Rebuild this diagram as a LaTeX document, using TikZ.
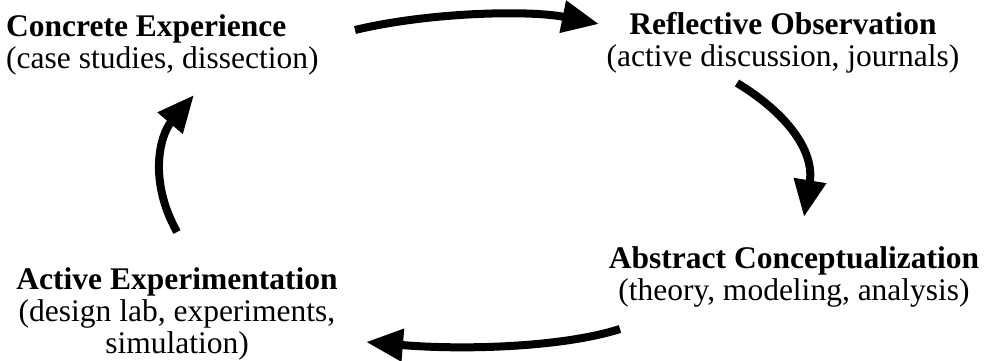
\documentclass[tikz,border=0pt]{standalone}
\usepackage{fontspec}
\setmainfont{Liberation Serif}
\usetikzlibrary{arrows.meta}

\begin{document}
\begin{tikzpicture}[x=1pt,y=-1pt]
	\tikzstyle{phase}=[inner sep=0pt,align=center,font=\fontsize{31.5}{32}\selectfont]
	\tikzstyle{fleche}=[line width=8pt,-{Triangle[length=37pt,width=31pt]}]
	\useasboundingbox (0,0) rectangle (985,361);
	% les quatre phases
	\node[phase,align=left,anchor=north west] (A) at (6,14){\textbf{Concrete Experience}\\(case studies, dissection)};
	\node[phase,anchor=north] (B) at (783,12){\textbf{Reflective Observation}\\(active discussion, journals)};
	\node[phase,anchor=north] (C) at (794,246){\textbf{Abstract Conceptualization}\\(theory, modeling, analysis)};
	\node[phase,anchor=north] (D) at (177,267){\textbf{Active Experimentation}\\(design lab, experiments,\\simulation)};
	% bouts des fleches
	\coordinate (AB1) at (355,30);
	\coordinate (AB2) at (599,24);
	\coordinate (BC1) at (737,83);
	\coordinate (BC2) at (804,217);
	\coordinate (CD1) at (620,329);
	\coordinate (CD2) at (366,342);
	\coordinate (DA1) at (177,232);
	\coordinate (DA2) at (194,95);
	\draw[fleche] (AB1) .. controls (430,12) and (530,10) .. (AB2);
	\draw[fleche] (BC1) .. controls (785,112) and (815,150) .. (BC2);
	\draw[fleche] (CD1) .. controls (560,348) and (460,350) .. (CD2);
	\draw[fleche] (DA1) .. controls (148,180) and (160,135) .. (DA2);
\end{tikzpicture}
\end{document}
